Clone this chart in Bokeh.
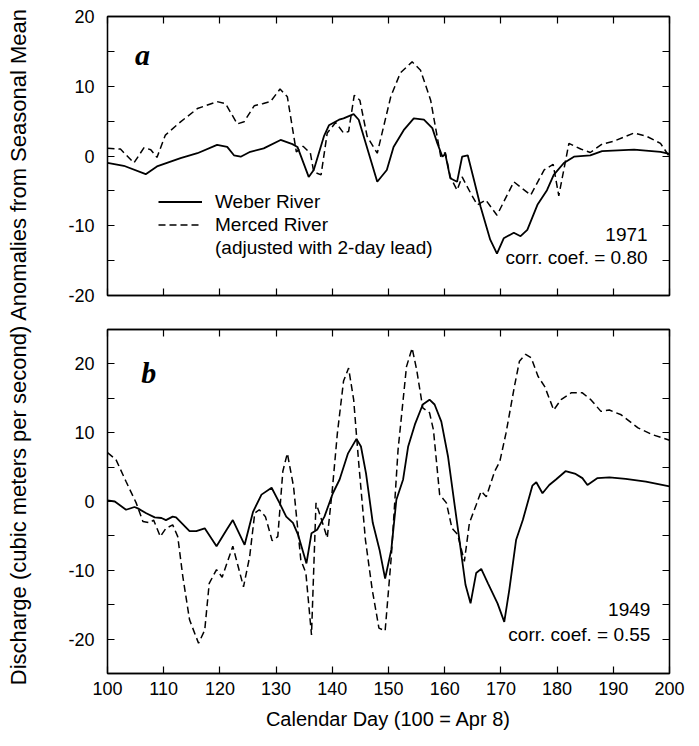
import numpy as np
from bokeh.plotting import figure
from bokeh.models import (FixedTicker, LinearAxis, Range1d, Label, Legend, LegendItem,
                          CustomLabelingPolicy)
from bokeh.layouts import row, column
from bokeh.embed import file_html
from bokeh.resources import INLINE

# ---------------- data ----------------
# Panel a: 1971
w71_day = [100, 102.9, 106.8, 108.8, 113, 116, 119.5, 121.3, 122.5, 123.7,
           125.4, 127.8, 130.8, 132.9, 133.8, 135.8, 136.7, 138.5, 139.4, 141.2,
           142.0, 143.8, 144.7, 148.0, 149.7, 150.9, 152.7, 154.5, 156.3, 157.8,
           158.7, 159.6, 160.1, 161.0, 162.2, 163.1, 164.1, 165.2, 166.4, 168.1,
           169.3, 170.5, 172.3, 173.5, 174.7, 176.5, 178.2, 179.4, 181.2, 183.0,
           185.9, 188.0, 193.7, 198.4, 200]
w71_val = [-1.0, -1.4, -2.6, -1.5, -0.3, 0.4, 1.6, 1.3, 0.1, -0.1,
           0.6, 1.1, 2.3, 1.7, 1.3, -3.0, -2.0, 2.8, 4.4, 5.2,
           5.4, 6.0, 5.2, -3.7, -2.0, 1.3, 3.7, 5.4, 5.2, 4.0,
           1.8, -0.1, 0.3, -3.2, -3.7, -0.1, 0.1, -3.4, -7.3, -12.0,
           -14.0, -11.8, -11.0, -11.5, -10.6, -7.0, -4.9, -2.7, -1.0, -0.1,
           0.1, 0.7, 0.9, 0.6, 0.3]
m71_day = [100, 102.3, 104.7, 106.5, 107.7, 108.8, 110.3, 113, 116, 119.5,
           121, 123.1, 124.3, 126.1, 127.6, 129.0, 130.7, 132.0, 133.6, 134.8,
           136.1, 136.7, 138.0, 139.1, 140.6, 142.0, 142.9, 143.9, 144.9, 146.2,
           148.0, 150.4, 152.1, 154.2, 155.7, 157.5, 159.3, 160.1, 161.0, 162.2,
           163.1, 164.6, 165.8, 167.3, 169.3, 172.3, 175.3, 177.7, 179.3, 180.3,
           182.1, 184.2, 185.9, 188.0, 190.0, 193.7, 196.0, 198.4, 200]
m71_val = [1.1, 1.0, -1.0, 1.2, 0.9, -0.2, 3.0, 4.9, 6.8, 7.8,
           7.5, 4.6, 4.9, 7.2, 7.5, 7.8, 9.6, 8.5, 0.6, 1.4,
           0.4, -2.3, -2.7, 3.3, 4.8, 3.3, 3.5, 8.7, 8.0, 2.8,
           0.4, 8.5, 11.9, 13.5, 12.3, 8.0, -0.1, 0.5, -3.0, -4.9,
           -3.0, -5.3, -7.0, -6.3, -8.5, -3.7, -5.6, -2.0, -1.2, -5.7,
           1.8, 1.0, 0.5, 1.7, 2.1, 3.3, 2.8, 1.8, -0.1]

# Panel b: 1949
w49_day = [100, 101.3, 103.3, 104.8, 105.4, 106.9, 108.4, 109.6, 110.4, 111.6,
           112.2, 114.6, 115.8, 117.3, 119.4, 121.2, 122.3, 124.4, 125.9, 127.4,
           129.2, 130.6, 131.8, 133.0, 133.9, 135.4, 136.3, 137.3, 138.6, 140.1,
           141.3, 142.8, 144.3, 145.1, 146.0, 147.2, 148.4, 149.4, 150.5, 151.4,
           152.6, 153.5, 154.7, 156.1, 157.3, 158.2, 159.4, 160.6, 161.8, 162.7,
           163.7, 164.6, 165.6, 166.5, 167.7, 169.4, 170.6, 171.5, 172.7, 173.9,
           175.6, 176.3, 177.4, 178.6, 179.8, 181.5, 183.3, 184.5, 185.4, 187.2,
           189.3, 192.2, 195.8, 200]
w49_val = [0.15, 0, -1.2, -0.8, -1.0, -1.7, -2.3, -2.4, -2.7, -2.2,
           -2.3, -4.3, -4.3, -3.9, -6.5, -4.1, -2.7, -6.3, -1.5, 1.0,
           2.0, -0.2, -2.2, -3.1, -4.8, -9.0, -4.6, -4.1, -2.2, 1.2,
           3.2, 7.0, 9.1, 8.0, 4.1, -3.1, -7.0, -11.2, -7.0, 0.25,
           3.2, 8.0, 11.2, 14.1, 14.8, 14.1, 11.6, 6.5, -0.7, -6.1,
           -12.1, -14.8, -10.4, -9.8, -11.9, -14.8, -17.5, -12.8, -5.6, -2.7,
           2.3, 2.8, 1.2, 2.4, 3.2, 4.4, 4.0, 3.4, 2.4, 3.4,
           3.5, 3.3, 2.9, 2.2]
m49_day = [100, 101.5, 103.3, 105.1, 106.3, 107.5, 108.2, 109.4, 110.4, 111.6,
           112.5, 113.4, 114.6, 116.2, 117.3, 118.1, 119.4, 120.4, 122.3, 124.2,
           125.3, 126.2, 127.0, 128.1, 129.3, 130.3, 131.2, 132.0, 133.1, 134.4,
           135.3, 136.3, 137.1, 138.1, 139.1, 140.0, 140.9, 142.0, 142.9, 143.8,
           144.7, 145.9, 147.1, 148.3, 149.4, 150.5, 151.7, 153.2, 154.2, 155.0,
           156.1, 157.3, 158.0, 159.1, 160.3, 161.3, 162.3, 163.5, 164.4, 165.6,
           166.5, 167.4, 168.9, 169.8, 170.9, 172.4, 173.3, 174.4, 175.4, 176.6,
           177.8, 179.4, 180.7, 182.5, 184.5, 186.0, 187.8, 189.3, 191.4, 194.4,
           197.0, 200]
m49_val = [7.1, 6.1, 2.9, -0.2, -2.9, -3.1, -2.7, -5.1, -3.9, -3.4,
           -5.1, -10.9, -17.2, -20.6, -18.7, -11.9, -9.9, -11.0, -6.5, -12.4,
           -8.0, -1.7, -1.2, -2.2, -5.7, -5.1, 4.4, 7.0, 2.2, -8.5,
           -10.4, -19.4, -0.2, -2.7, -5.3, 1.7, 9.9, 17.5, 19.4, 14.8,
           5.6, -5.6, -12.8, -18.4, -18.8, -8.0, 7.5, 19.6, 22.3, 19.2,
           13.6, 12.9, 10.4, 1.0, -0.2, -3.9, -4.8, -8.7, -3.1, -0.5,
           1.5, 0.7, 4.4, 5.8, 9.9, 16.7, 20.4, 21.4, 20.9, 18.2,
           16.7, 13.3, 14.8, 15.8, 15.8, 14.8, 13.1, 13.3, 12.6, 10.7,
           9.7, 8.9]

x_ticks = [100, 110, 120, 130, 140, 150, 160, 170, 180, 190, 200]
y_ticks = [-20, -10, 0, 10, 20]
y_minor = [-15, -5, 5, 15]

FONT = "Liberation Sans"

NO_LABELS = """
const n = indices.size
for (let i = 0; i < n; i++) indices.unset(i)
return indices
"""


def add_axis(p, place, ticks, minor, labels, **kw):
    ax = LinearAxis(ticker=FixedTicker(ticks=ticks, minor_ticks=minor), **kw)
    ax.major_tick_in = 7
    ax.major_tick_out = 0
    ax.minor_tick_in = 7
    ax.minor_tick_out = 0
    ax.axis_line_color = "black"
    ax.axis_line_width = 1.3
    ax.major_tick_line_color = "black"
    ax.minor_tick_line_color = "black"
    ax.major_tick_line_width = 1.2
    ax.minor_tick_line_width = 1.2
    if labels:
        ax.major_label_text_font = FONT
        ax.major_label_text_font_size = "18px"
        ax.major_label_text_color = "black"
        ax.major_label_standoff = 13 if place in ("left", "right") else 8
        ax.major_label_overrides = {t: str(t) for t in ticks}
    else:
        ax.major_label_text_font_size = "10px"
        ax.major_label_standoff = 0
        ax.major_label_overrides = {t: "" for t in ticks}
        ax.major_label_policy = CustomLabelingPolicy(code=NO_LABELS)
    p.add_layout(ax, place)
    return ax


def make_fig(height, ymin, ymax, top, bottom):
    p = figure(width=663, height=height, x_range=Range1d(100, 200),
               y_range=Range1d(ymin, ymax), output_backend="svg",
               toolbar_location=None, x_axis_location=None, y_axis_location=None,
               min_border_left=71, min_border_right=30,
               min_border_top=top, min_border_bottom=bottom,
               background_fill_color="white", border_fill_color="white")
    p.outline_line_color = "black"
    p.outline_line_width = 1.3
    p.grid.grid_line_color = None
    return p


def note(p, x, y, text, **kw):
    opts = dict(text_font=FONT, text_font_size="19px", text_color="black",
                text_align="right", text_baseline="middle")
    opts.update(kw)
    p.add_layout(Label(x=x, y=y, text=text, **opts))


# ---------------- panel a ----------------
p1 = make_fig(315, -20, 20, 16, 20)
add_axis(p1, "left", y_ticks, y_minor, True)
add_axis(p1, "right", y_ticks, y_minor, False)
add_axis(p1, "above", x_ticks, [], False)
add_axis(p1, "below", x_ticks, [], False)

r_w = p1.line(w71_day, w71_val, line_color="black", line_width=1.8)
r_m = p1.line(m71_day, m71_val, line_color="black", line_width=1.5, line_dash="7 4")
r_blank = p1.line(x=[], y=[], line_alpha=0)

legend = Legend(items=[LegendItem(label="Weber River", renderers=[r_w]),
                       LegendItem(label="Merced River", renderers=[r_m]),
                       LegendItem(label="(adjusted with 2-day lead)", renderers=[r_blank])],
                location=(51, 36), glyph_width=44, glyph_height=23, label_height=23,
                label_standoff=13, spacing=0, padding=0, margin=0,
                border_line_color=None, background_fill_alpha=0,
                label_text_font=FONT, label_text_font_size="19px",
                label_text_color="black")
p1.add_layout(legend)

note(p1, 104.9, 14.6, "a", text_font="Liberation Serif", text_font_style="bold italic",
     text_font_size="30px", text_align="left", text_baseline="alphabetic")
note(p1, 196.1, -11.2, "1971")
note(p1, 196.1, -14.5, "corr. coef. = 0.80")

# ---------------- panel b ----------------
p2 = make_fig(431, -25, 25, 14, 73)
add_axis(p2, "left", y_ticks, y_minor, True)
add_axis(p2, "right", y_ticks, y_minor, False)
add_axis(p2, "above", x_ticks, [], False)
bx = add_axis(p2, "below", x_ticks, [], True)
bx.axis_label = "Calendar Day (100 = Apr 8)"
bx.axis_label_text_font = FONT
bx.axis_label_text_font_size = "20px"
bx.axis_label_text_font_style = "normal"
bx.axis_label_text_color = "black"
bx.axis_label_standoff = 10

p2.line(w49_day, w49_val, line_color="black", line_width=1.8)
p2.line(m49_day, m49_val, line_color="black", line_width=1.5, line_dash="7 4")

note(p2, 106.0, 18.7, "b", text_font="Liberation Serif", text_font_style="bold italic",
     text_font_size="30px", text_align="left", text_baseline="alphabetic")
note(p2, 196.6, -15.75, "1949")
note(p2, 196.6, -19.4, "corr. coef. = 0.55")

# ---------------- shared y label ----------------
lab = figure(width=36, height=746, x_range=Range1d(0, 36), y_range=Range1d(0, 746),
             output_backend="svg", toolbar_location=None, min_border=0,
             x_axis_location=None, y_axis_location=None,
             background_fill_color="white", border_fill_color="white")
lab.outline_line_color = None
lab.grid.grid_line_color = None
lab.add_layout(Label(x=18, y=400,
                     text="Discharge (cubic meters per second) Anomalies from Seasonal Mean",
                     angle=np.pi / 2, text_align="center", text_baseline="middle",
                     text_font=FONT, text_font_size="22px", text_color="black"))

layout = row(lab, column(p1, p2, spacing=0), spacing=0)
open("out.html", "w").write(file_html(layout, INLINE))
